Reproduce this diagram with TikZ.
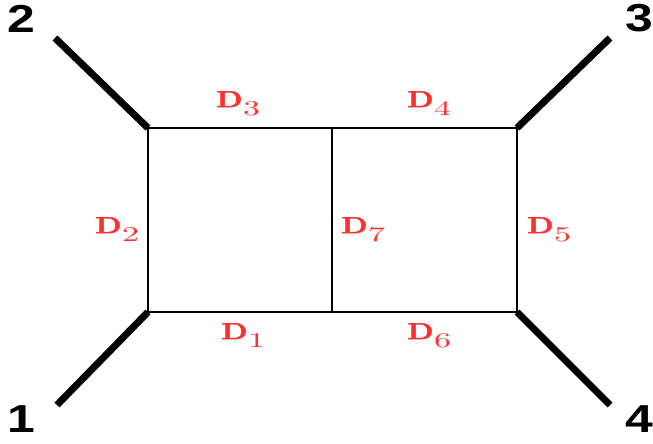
\documentclass[tikz,border=0pt]{standalone}
\usepackage{fontspec}
\newfontfamily\legfont{Liberation Sans}
\newfontfamily\dboldfont{lmroman10-bold}[Extension=.otf,FakeBold=1.5]
\definecolor{lblred}{HTML}{FF3030}
\newcommand{\dl}[1]{\resizebox{26.5pt}{16pt}{\dboldfont D}\kern0.5pt\raisebox{-8pt}{\resizebox{17pt}{14pt}{#1}}}
\newcommand{\extlab}[1]{\scalebox{1.28}[1]{#1}}
\begin{document}
\begin{tikzpicture}[x=1pt,y=-1pt,
  prop/.style={line width=2pt},
  leg/.style={line width=7pt},
  dlab/.style={text=lblred,inner sep=0pt,anchor=north west},
  ext/.style={font=\legfont\bfseries\fontsize{39}{42}\selectfont,inner sep=0pt}]
\useasboundingbox (0,0) rectangle (653,444);
\coordinate (tl) at (148,128);
\coordinate (tm) at (332,128);
\coordinate (tr) at (517,128);
\coordinate (bl) at (148,312);
\coordinate (bm) at (332,312);
\coordinate (br) at (517,312);
\coordinate (e2) at (55,38);
\coordinate (e3) at (610,38);
\coordinate (e1) at (57,405);
\coordinate (e4) at (610,405);
\draw[prop] (tl) -- (tr) -- (br) -- (bl) -- cycle;
\draw[prop] (tm) -- (bm);
\draw[leg] (e2) -- (tl);
\draw[leg] (e3) -- (tr);
\draw[leg] (e1) -- (bl);
\draw[leg] (e4) -- (br);
\node[ext] (n2) at (21.5,18.5) {\extlab{2}};
\node[ext] (n3) at (639,18.5) {\extlab{3}};
\node[ext] (n1) at (21,419) {\extlab{1}};
\node[ext] (n4) at (639.5,419) {\extlab{4}};
\node[dlab] (d3) at (216,91) {\dl{3}};
\node[dlab] (d4) at (407,91) {\dl{4}};
\node[dlab] (d2) at (95,217) {\dl{2}};
\node[dlab] (d7) at (341,217) {\dl{7}};
\node[dlab] (d5) at (527,217) {\dl{5}};
\node[dlab] (d1) at (221,323) {\dl{1}};
\node[dlab] (d6) at (407,323) {\dl{6}};
\end{tikzpicture}
\end{document}
